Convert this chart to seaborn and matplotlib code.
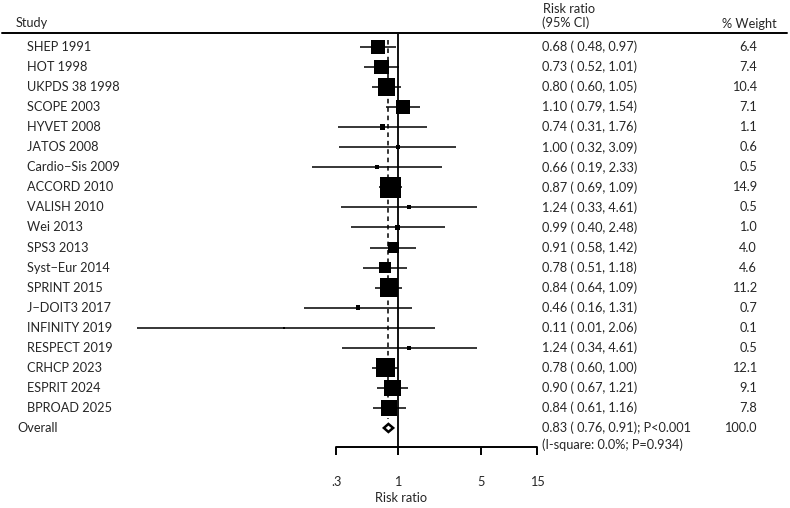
"""Forest plot of intensive blood pressure trials (risk ratio, log scale)."""

import matplotlib

matplotlib.use("Agg")
import matplotlib.pyplot as plt
import numpy as np
import pandas as pd
import seaborn as sns
from matplotlib.patches import Polygon

studies = [
  "SHEP 1991", "HOT 1998", "UKPDS 38 1998", "SCOPE 2003", "HYVET 2008",
  "JATOS 2008", "Cardio\u2212Sis 2009", "ACCORD 2010", "VALISH 2010", "Wei 2013",
  "SPS3 2013", "Syst\u2212Eur 2014", "SPRINT 2015", "J\u2212DOIT3 2017", "INFINITY 2019",
  "RESPECT 2019", "CRHCP 2023", "ESPRIT 2024", "BPROAD 2025",
]
rr = [0.68, 0.73, 0.80, 1.10, 0.74, 1.00, 0.66, 0.87, 1.24, 0.99,
      0.91, 0.78, 0.84, 0.46, 0.11, 1.24, 0.78, 0.90, 0.84]
ci_low = [0.48, 0.52, 0.60, 0.79, 0.31, 0.32, 0.19, 0.69, 0.33, 0.40,
          0.58, 0.51, 0.64, 0.16, 0.0063, 0.34, 0.60, 0.67, 0.61]
ci_high = [0.97, 1.01, 1.05, 1.54, 1.76, 3.09, 2.33, 1.09, 4.61, 2.48,
           1.42, 1.18, 1.09, 1.31, 2.06, 4.61, 1.00, 1.21, 1.16]
weights = [6.4, 7.4, 10.4, 7.1, 1.1, 0.6, 0.5, 14.9, 0.5, 1.0,
           4.0, 4.6, 11.2, 0.7, 0.1, 0.5, 12.1, 9.1, 7.8]

overall_rr = 0.83
overall_low = 0.76
overall_high = 0.91
overall_text = "0.83 ( 0.76, 0.91); P<0.001"
overall_weight = "100.0"
het_text = "(I-square: 0.0%; P=0.934)"

ticks = [0.3, 1, 5, 15]
tick_labels = [".3", "1", "5", "15"]

W, H = 790, 508
PX_PER_LN = 51.5   # pixels per natural-log unit on the x scale
X_ONE = 398        # pixel column of RR = 1
ROW0, ROW_STEP = 47, 20.05


def py(pix):
  return (pix - ROW0) / ROW_STEP


def px(pix):
  return pix / W


df = pd.DataFrame({
  "study": studies, "rr": rr, "low": ci_low, "high": ci_high, "weight": weights,
})
df["row"] = np.arange(len(df))
df["ci_text"] = [f"{r:.2f} ( {l:.2f}, {h:.2f})" for r, l, h in zip(rr, ci_low, ci_high)]
overall_row = len(df)

sns.set_theme(style="white")
plt.rcParams["font.family"] = ["Lato", "DejaVu Sans"]
fs = 9.2

fig = plt.figure(figsize=(W / 100, H / 100), dpi=100)
ax = fig.add_axes([0, 0, 1, 1])
ax.set_xscale("log")
ax.set_xlim(np.exp(-X_ONE / PX_PER_LN), np.exp((W - X_ONE) / PX_PER_LN))
ax.set_ylim(py(H), py(0))
ax.axis("off")
tr = ax.get_yaxis_transform()

# confidence intervals and weighted squares
ax.hlines(df["row"], df["low"], df["high"], color="black", lw=1.1, zorder=2)
sns.scatterplot(
  data=df, x="rr", y="row", size="weight", sizes=(1.5, 229), marker="s",
  color="black", linewidth=0, legend=False, ax=ax, zorder=3,
)

# reference lines
ax.vlines(1, py(34), py(447), color="black", lw=1.3, zorder=1)
ax.vlines(overall_rr, py(40), py(419), color="black", lw=1.1,
          linestyles=(0, (3, 2.5)), zorder=1)

# overall diamond
dh = 4 / ROW_STEP
ax.add_patch(Polygon(
  [(overall_low, overall_row), (overall_rr, overall_row - dh),
   (overall_high, overall_row), (overall_rr, overall_row + dh)],
  closed=True, facecolor="white", edgecolor="black", lw=1.8, zorder=4,
))

# x axis drawn by hand
ax.plot([ticks[0], ticks[-1]], [py(447), py(447)], color="black", lw=1.4)
ax.vlines(ticks, py(447), py(455), color="black", lw=1.4)
for t, lab in zip(ticks, tick_labels):
  ax.text(t, py(482), lab, ha="center", va="center", fontsize=fs)
ax.text(px(401), py(498), "Risk ratio", transform=tr, ha="center", va="center", fontsize=fs)

# header
ax.plot([px(2), px(787)], [py(33), py(33)], transform=tr, color="black", lw=1.4, clip_on=False)
ax.text(px(16), py(23), "Study", transform=tr, ha="left", va="center", fontsize=fs)
ax.text(px(543), py(12.5), "Risk ratio", transform=tr, ha="left", va="baseline", fontsize=fs)
ax.text(px(542), py(23), "(95% CI)", transform=tr, ha="left", va="center", fontsize=fs)
ax.text(px(777), py(24), "% Weight", transform=tr, ha="right", va="center", fontsize=fs)

# table text
for _, r in df.iterrows():
  ax.text(px(27), r["row"], r["study"], transform=tr, ha="left", va="center", fontsize=fs)
  ax.text(px(542), r["row"], r["ci_text"], transform=tr, ha="left", va="center", fontsize=fs)
  ax.text(px(757), r["row"], f"{r['weight']:.1f}", transform=tr, ha="right", va="center", fontsize=fs)

ax.text(px(17), overall_row, "Overall", transform=tr, ha="left", va="center", fontsize=fs)
ax.text(px(542), overall_row, overall_text, transform=tr, ha="left", va="center", fontsize=fs)
ax.text(px(757), overall_row, overall_weight, transform=tr, ha="right", va="center", fontsize=fs)
ax.text(px(542), py(445), het_text, transform=tr, ha="left", va="center", fontsize=fs)

fig.savefig("out.png", dpi=100)
plt.close(fig)
